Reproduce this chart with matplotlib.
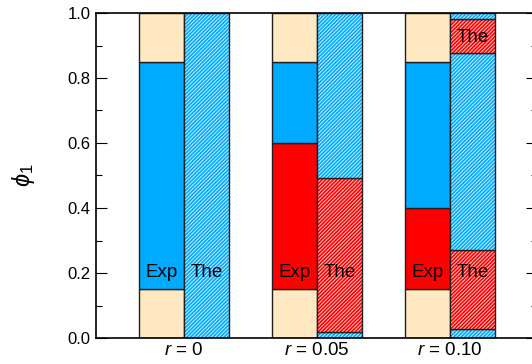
import matplotlib
matplotlib.use("Agg")
import matplotlib.pyplot as plt
from matplotlib.ticker import MultipleLocator, FormatStrFormatter

plt.rcParams['font.family'] = ['Liberation Sans', 'DejaVu Sans']
plt.rcParams['mathtext.fontset'] = 'custom'
plt.rcParams['mathtext.it'] = 'Liberation Sans:italic'
plt.rcParams['mathtext.rm'] = 'Liberation Sans'
plt.rcParams['hatch.linewidth'] = 0.7

groups = ['$r$ = 0', '$r$ = 0.05', '$r$ = 0.10']
# Experimental stacked segments (bottom -> top): (height, kind)
exp_segments = [
    [(0.15, 'tan'), (0.70, 'blue'), (0.15, 'tan')],
    [(0.15, 'tan'), (0.45, 'red'), (0.25, 'blue'), (0.15, 'tan')],
    [(0.15, 'tan'), (0.25, 'red'), (0.45, 'blue'), (0.15, 'tan')],
]
# Theoretical stacked segments (bottom -> top)
the_segments = [
    [(1.0, 'blue')],
    [(0.018, 'blue'), (0.475, 'red'), (0.507, 'blue')],
    [(0.028, 'blue'), (0.242, 'red'), (0.606, 'blue'), (0.105, 'red'), (0.019, 'blue')],
]
exp_label_y = [0.203, 0.203, 0.203]
the_label_y = [[0.203], [0.203], [0.203, 0.926]]

colors = {'tan': '#FFE8C2', 'blue': '#00AAFF', 'red': '#FF0000'}
the_colors = {'blue': '#00AAFF', 'red': '#FF0000'}
hatch_colors = {'blue': '#C8ECFF', 'red': '#FFC8C8'}

fig = plt.figure(figsize=(5.32, 3.64), dpi=100)
ax = fig.add_axes([96/532, 26/364, 441/532, 325/364])

w = 0.335
for i in range(len(groups)):
    bottom = 0.0
    for h, k in exp_segments[i]:
        ax.bar(i - w/2, h, width=w, bottom=bottom, color=colors[k],
               edgecolor='#202020', linewidth=1.0)
        bottom += h
    bottom = 0.0
    for h, k in the_segments[i]:
        ax.bar(i + w/2, h, width=w, bottom=bottom, color=the_colors[k],
               edgecolor=hatch_colors[k], linewidth=0, hatch='/' * 9)
        ax.bar(i + w/2, h, width=w, bottom=bottom, fill=False,
               edgecolor='#202020', linewidth=1.0)
        bottom += h
    ax.text(i - w/2, exp_label_y[i], 'Exp', ha='center', va='center', fontsize=13.5)
    for yy in the_label_y[i]:
        ax.text(i + w/2, yy, 'The', ha='center', va='center', fontsize=13.5)

ax.set_xlim(-0.6617, 2.654)
ax.set_ylim(0, 1.0)
ax.set_xticks(range(len(groups)))
ax.set_xticklabels(groups, fontsize=13.5)
ax.tick_params(axis='x', length=0, pad=3)
ax.yaxis.set_major_locator(MultipleLocator(0.2))
ax.yaxis.set_minor_locator(MultipleLocator(0.1))
ax.tick_params(axis='y', which='major', direction='in', length=8, width=0.8,
               right=True, labelsize=12, pad=4)
ax.tick_params(axis='y', which='minor', direction='in', length=4, width=0.8,
               right=True)
ax.yaxis.set_major_formatter(FormatStrFormatter('%.1f'))
for s in ax.spines.values():
    s.set_linewidth(1.2)
ax.set_ylabel(r'$\phi_1$', fontsize=17, labelpad=22)

fig.savefig('out.png', dpi=100)
